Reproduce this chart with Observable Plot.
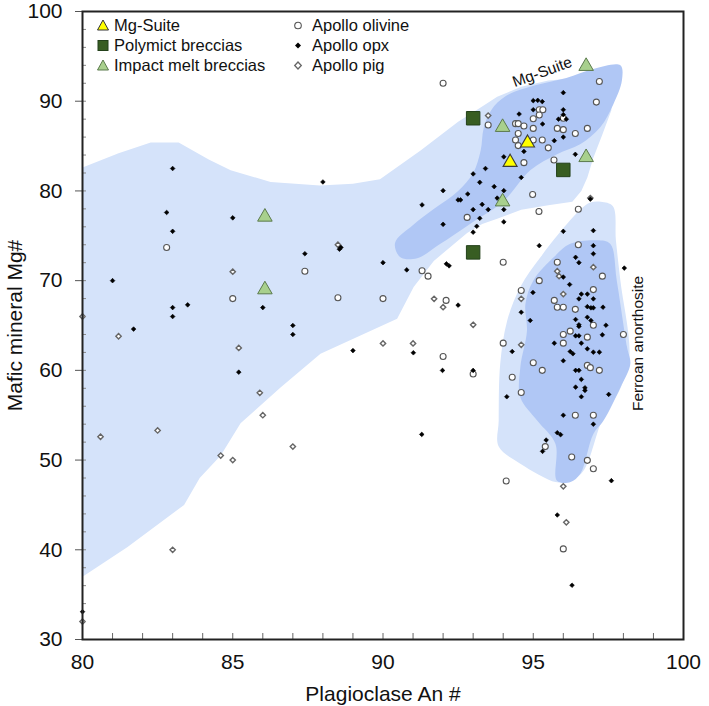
<!DOCTYPE html>
<html><head><meta charset="utf-8">
<script src="https://cdn.jsdelivr.net/npm/d3@7"></script>
<script src="https://cdn.jsdelivr.net/npm/@observablehq/plot@0.6"></script>
<style>
body{margin:0;background:#fff;font-family:"Liberation Sans",Arial,sans-serif;}
#wrap{position:relative;width:709px;height:706px;}
.leg{position:absolute;font-size:16.5px;color:#111;line-height:20px;white-space:nowrap;}
.legsym{position:absolute;}
</style></head><body><div id="wrap"></div>
<script>
// ---- data ----
const xTicks = [80, 85, 90, 95, 100];
const yTicks = [30, 40, 50, 60, 70, 80, 90, 100];
const xMinor = d3.range(80, 101, 1);
const yMinor = d3.range(30, 101, 2);

const mgSuite = [[94.81, 85.34], [94.23, 83.19]];
const polymict = [[93.0, 88.1], [96.0, 82.34], [93.0, 73.15]];
const impactMelt = [[86.07, 77.1], [86.07, 69.0], [96.76, 93.9], [93.98, 87.1], [96.76, 83.74], [93.98, 78.8]];

const olivine = [
  [82.8, 73.7], [87.4, 71.05], [85.0, 68.0], [88.5, 68.1], [90.0, 68.0],
  [92.0, 92.0], [97.2, 92.2], [97.1, 89.9], [93.5, 87.35], [95.2, 89.05], [95.32, 89.05], [95.2, 88.46],
  [95.0, 88.05], [96.0, 88.1], [94.41, 87.5], [94.5, 87.5], [94.69, 87.24], [95.0, 86.97], [94.5, 86.4],
  [95.8, 86.97], [96.0, 86.83], [96.4, 86.4], [96.8, 86.97], [94.41, 85.68], [95.0, 85.68], [95.3, 85.68],
  [94.5, 85.05], [95.5, 84.8], [94.69, 83.15], [95.69, 83.45], [94.98, 79.6], [95.19, 77.7], [96.5, 77.95],
  [92.8, 77.05], [96.5, 74.0],
  [94.0, 72.05], [95.8, 72.05], [91.3, 71.1], [91.5, 70.5], [97.3, 70.5], [95.2, 70.0], [94.6, 68.9],
  [97.0, 69.0], [92.1, 67.8], [95.7, 67.8], [95.8, 67.04], [96.0, 67.04], [96.4, 66.8], [97.0, 65.03],
  [96.23, 64.37], [96.0, 64.0], [96.8, 63.7], [98.0, 64.0], [96.0, 63.03], [94.0, 63.03], [95.0, 60.85],
  [95.3, 60.0], [96.8, 60.55], [96.9, 60.3], [97.2, 60.0], [94.3, 59.24], [94.6, 57.54], [96.4, 55.0],
  [97.0, 55.0], [92.0, 61.55], [93.0, 59.6], [95.4, 51.5], [96.28, 50.34], [96.8, 49.97], [97.0, 49.04],
  [94.1, 47.66], [96.0, 40.1]
];

const opx = [
  [83.0, 82.5], [88.0, 81.0], [82.8, 77.6], [85.0, 77.0], [83.0, 75.5], [88.55, 73.5], [88.6, 73.7],
  [87.4, 73.0], [90.0, 72.0], [81.0, 70.0], [83.0, 67.0], [83.5, 67.3], [83.0, 66.0], [86.0, 67.0],
  [81.7, 64.6], [87.0, 65.0], [87.0, 64.0], [89.0, 62.2], [85.2, 59.8], [80.0, 33.1],
  [96.0, 90.95], [95.0, 90.06], [95.15, 90.1], [95.3, 89.96], [95.0, 89.05], [94.53, 88.57], [96.0, 89.05],
  [96.0, 88.5], [95.84, 88.0], [96.1, 88.0], [95.31, 87.46], [96.0, 86.0], [95.7, 85.6], [94.69, 84.4],
  [94.02, 83.8], [96.4, 84.08], [94.6, 81.5], [93.41, 82.5], [93.0, 81.9], [93.22, 80.96], [93.7, 80.48],
  [94.02, 80.03], [92.0, 80.03], [92.82, 79.66], [92.5, 79.0], [92.58, 79.0], [93.8, 79.2], [91.3, 78.44],
  [93.3, 78.5], [93.0, 77.92], [93.5, 77.92], [94.02, 77.92], [96.9, 79.1], [93.22, 76.95], [92.0, 76.28],
  [93.12, 76.06], [94.02, 76.55], [93.0, 75.4], [96.0, 75.5], [97.0, 75.58], [95.2, 73.9], [97.0, 73.9],
  [97.0, 73.0], [96.41, 72.6], [96.52, 72.0], [90.79, 71.2], [92.11, 71.87], [92.2, 71.65], [98.03, 71.4],
  [96.0, 70.4], [96.21, 69.57], [94.99, 68.68], [96.6, 68.5], [96.8, 68.5], [97.0, 67.97], [96.52, 67.97],
  [96.8, 67.1], [96.92, 66.97], [97.0, 66.97], [97.32, 67.04], [94.6, 66.48], [94.9, 65.56], [96.41, 65.67],
  [96.8, 65.92], [96.52, 65.08], [96.52, 64.9], [96.92, 65.56], [97.42, 65.03], [96.41, 63.85], [96.52, 63.85],
  [97.3, 63.96], [95.7, 63.03], [96.6, 63.03], [96.8, 62.4], [97.0, 62.03], [97.2, 62.03], [96.23, 62.1],
  [96.32, 61.85], [96.0, 61.07], [94.3, 62.1], [96.41, 60.0], [96.52, 60.0], [96.6, 58.99], [96.41, 58.13],
  [96.72, 58.06], [96.72, 57.76], [96.6, 57.06], [97.51, 57.32], [94.12, 57.06], [96.0, 55.0], [92.5, 67.27],
  [91.01, 61.96], [91.98, 59.99], [93.0, 59.99], [97.0, 54.0], [91.29, 52.86], [95.8, 53.05], [95.91, 52.83],
  [95.43, 52.23], [95.31, 50.97], [97.6, 47.7], [95.8, 43.88], [96.29, 36.05]
];

const pig = [
  [88.5, 74.0], [85.0, 71.0], [80.0, 66.0], [81.2, 63.8], [85.2, 62.5], [90.0, 63.0], [85.9, 57.5],
  [86.0, 55.0], [82.5, 53.3], [80.6, 52.6], [87.0, 51.5], [84.6, 50.5], [85.0, 50.0], [83.0, 40.0],
  [80.0, 32.0], [93.5, 88.4], [96.9, 79.2], [97.0, 71.5], [95.8, 71.05], [95.86, 70.5], [96.0, 68.5],
  [94.6, 67.97], [91.7, 67.97], [92.0, 67.04], [93.0, 65.08], [91.0, 63.0], [94.6, 62.85], [96.0, 47.07],
  [96.1, 43.06]
];

// field outlines
const fieldLight = [
  [80, 37], [80, 82.6], [81.2, 84.2], [82.27, 85.4], [83.2, 85.4], [84.2, 83.5], [84.93, 82.3],
  [86.26, 81.0], [87.9, 80.6], [89.0, 80.8], [89.9, 81.3], [91.25, 84.5], [92.5, 87.7], [93.3, 89.4],
  [93.8, 90.5], [94.6, 91.6], [95.5, 92.3], [96.5, 92.6], [97.6, 92.0], [97.6, 89.0], [97.3, 86.3],
  [97.0, 83.7], [96.8, 81.5], [96.6, 80.0], [96.3, 78.8], [95.5, 78.4], [94.6, 77.9], [93.8, 76.9],
  [93.3, 76.3], [92.8, 75.3], [91.69, 72.2], [91.02, 69.3], [90.47, 65.75], [87.92, 61.85], [86.59, 58.1],
  [85.26, 54.1], [84.6, 50.5], [83.9, 48.0], [83.38, 45.0], [81.5, 40.3]
];
const fieldMgSuite = [
  [90.4, 74.2], [91.0, 76.2], [91.7, 78.0], [92.5, 80.0], [93.0, 82.0], [93.25, 84.5], [93.35, 87.0],
  [93.6, 89.0], [94.1, 90.6], [95.1, 91.8], [96.1, 92.6], [97.0, 93.6], [97.9, 94.0], [97.95, 92.3],
  [97.67, 89.7], [97.23, 87.1], [96.56, 85.2], [95.79, 84.1], [94.9, 82.3], [94.02, 78.9], [92.8, 76.1],
  [91.91, 74.1], [91.14, 72.5], [90.58, 72.6]
];
const fieldFanLight = [
  [97.25, 78.8], [97.65, 78.3], [97.75, 74.5], [97.9, 70.0], [98.2, 61.5], [97.9, 58.0], [97.3, 54.5],
  [96.6, 48.5], [96.0, 47.6], [95.74, 47.55], [94.57, 49.6], [93.85, 51.5], [93.85, 54.4], [93.9, 60.7],
  [94.13, 65.5], [94.57, 69.3], [95.24, 72.6], [96.12, 76.3], [96.6, 78.0], [96.9, 78.7]
];
const fieldFanDark = [
  [96.23, 74.1], [97.12, 74.5], [97.56, 74.1], [97.78, 70.0], [98.12, 62.6], [98.23, 60.7], [97.9, 58.1],
  [97.34, 54.4], [97.0, 52.9], [96.57, 48.5], [96.24, 47.55], [95.79, 47.7], [95.74, 51.8], [95.13, 54.4],
  [94.57, 57.0], [94.57, 60.35], [94.79, 64.4], [94.74, 67.4], [95.0, 70.0], [95.68, 72.6]
];

const labelText = ["Mg-Suite", "Ferroan anorthosite"];
const labelX = [95.3, 98.5];
const labelY = [93.25, 63.0];

const legendNames = ["Mg-Suite", "Polymict breccias", "Impact melt breccias", "Apollo olivine", "Apollo opx", "Apollo pig"];

// ---- chart ----
const LIGHT = "#d5e3fa", DARK = "#b0c7f5";
const px = d => d[0], py = d => d[1];
const field = (data, fill, curve) => Plot.line(data, {x: px, y: py, fill, stroke: "none", curve, clip: "frame"});

const chart = Plot.plot({
  width: 709, height: 706,
  marginLeft: 82, marginRight: 26, marginTop: 11, marginBottom: 67,
  style: {fontFamily: "'Liberation Sans', Arial, sans-serif", fontSize: "21px", color: "#111", background: "white"},
  x: {domain: [80, 100]},
  y: {domain: [30, 100]},
  marks: [
    field(fieldLight, LIGHT, "linear-closed"),
    field(fieldMgSuite, DARK, "catmull-rom-closed"),
    field(fieldFanLight, LIGHT, "catmull-rom-closed"),
    field(fieldFanDark, DARK, "catmull-rom-closed"),
    Plot.dot(pig, {x: px, y: py, symbol: "diamond2", r: 2.4, fill: "white", stroke: "#666", strokeWidth: 1.4}),
    Plot.dot(olivine, {x: px, y: py, symbol: "circle", r: 3, fill: "white", stroke: "#555", strokeWidth: 1.1}),
    Plot.dot(opx, {x: px, y: py, symbol: "diamond2", r: 2.1, fill: "black", stroke: "black", strokeWidth: 0.6}),
    Plot.dot(polymict, {x: px, y: py, symbol: "square", r: 7.6, fill: "#385d22", stroke: "#23401a", strokeWidth: 1}),
    Plot.dot(impactMelt, {x: px, y: py, symbol: "triangle", r: 5.4, fill: "#a8d08d", stroke: "#5b7a4c", strokeWidth: 1}),
    Plot.dot(mgSuite, {x: px, y: py, symbol: "triangle", r: 5.2, fill: "#ffff00", stroke: "#3a3a3a", strokeWidth: 1.1}),
    Plot.text([0], {x: labelX[0], y: labelY[0], text: () => labelText[0], rotate: -20, fontSize: 15.5, fill: "#111"}),
    Plot.text([1], {x: labelX[1], y: labelY[1], text: () => labelText[1], rotate: -90, fontSize: 15.5, fill: "#111"}),
    Plot.axisX({ticks: xMinor, tickSize: 6, dy: -6, text: null, label: null, stroke: "#666"}),
    Plot.axisX({ticks: xTicks, tickSize: 0, tickPadding: 15, fontSize: 21, label: "Plagioclase An #", labelAnchor: "center", labelArrow: "none", labelOffset: 61}),
    Plot.axisY({ticks: yMinor, tickSize: 4, dx: 4, text: null, label: null, stroke: "#888"}),
    Plot.axisY({ticks: yTicks, tickSize: 7, tickPadding: 13, fontSize: 21, stroke: "#555", label: "Mafic mineral Mg#", labelAnchor: "center", labelArrow: "none", labelOffset: 75}),
    Plot.frame({stroke: "#222", strokeWidth: 2})
  ]
});
const wrap = document.getElementById("wrap");
wrap.appendChild(chart);

// ---- legend overlay ----
const legSym = [
  '<polygon points="6,1 11.5,11 0.5,11" fill="#ffff00" stroke="#333" stroke-width="1"/>',
  '<rect x="1" y="1.5" width="10" height="10" fill="#385d22" stroke="#23401a" stroke-width="1"/>',
  '<polygon points="6,1 11.5,11 0.5,11" fill="#a8d08d" stroke="#5b7a4c" stroke-width="1"/>',
  '<circle cx="6" cy="6.5" r="3.3" fill="white" stroke="#555" stroke-width="1.1"/>',
  '<polygon points="6,3.5 9,6.5 6,9.5 3,6.5" fill="black"/>',
  '<polygon points="6,3 9.3,6.5 6,10 2.7,6.5" fill="white" stroke="#666" stroke-width="1.3"/>'
];
const colSym = [97, 292], colText = [114, 312], rowY = [25, 45, 65];
legendNames.forEach((name, i) => {
  const c = Math.floor(i / 3), r = i % 3;
  const s = document.createElement("div");
  s.className = "legsym";
  s.style.left = colSym[c] + "px"; s.style.top = (rowY[r] - 7) + "px";
  s.innerHTML = `<svg width="12" height="13">${legSym[i]}</svg>`;
  wrap.appendChild(s);
  const t = document.createElement("div");
  t.className = "leg";
  t.style.left = colText[c] + "px"; t.style.top = (rowY[r] - 10) + "px";
  t.textContent = name;
  wrap.appendChild(t);
});
</script></body></html>
